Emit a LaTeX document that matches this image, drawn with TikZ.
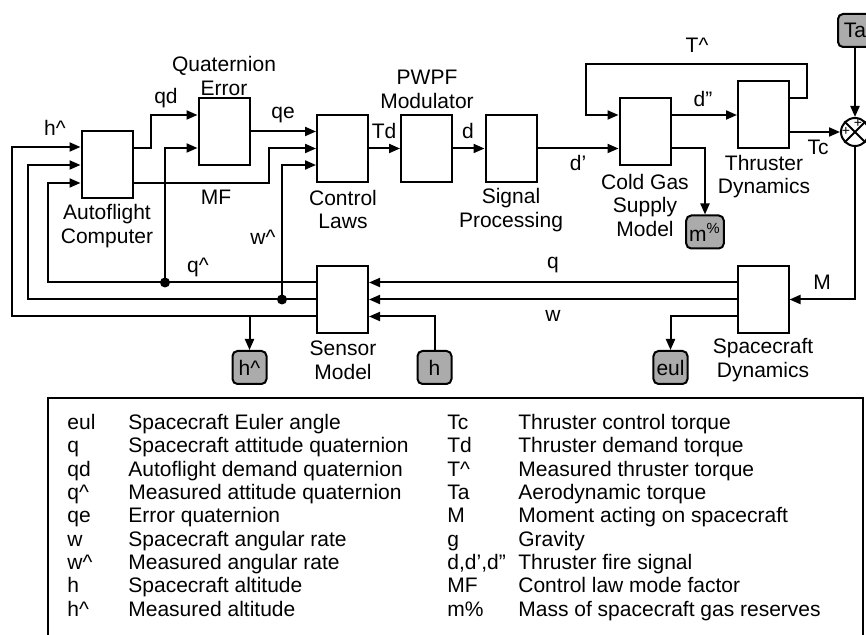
\documentclass[tikz,border=0pt]{standalone}
\usepackage{fontspec}
\setmainfont{Liberation Sans}
\usepackage{tikz}
\usetikzlibrary{arrows.meta,positioning,calc}
\newcommand\lblfont{\fontsize{10.5}{11.75}\selectfont}
\tikzset{
  blk/.style={draw,line width=1pt,minimum width=25.5pt,minimum height=33.5pt,inner sep=0pt},
  io/.style={draw,line width=1pt,fill=black!33,rounded corners=2.5pt,minimum width=17pt,minimum height=16.5pt,inner sep=1.5pt},
  sumn/.style={draw,circle,line width=1pt,minimum size=14pt,inner sep=0pt},
  lbl/.style={align=center,inner sep=0pt},
  leg/.style={anchor=base west,inner sep=0pt},
  arr/.style={-{Triangle[length=5.5pt,width=4.5pt]},line width=1pt},
  jdot/.style={circle,fill,inner sep=0pt,minimum size=5pt},
}
\begin{document}
\begin{tikzpicture}[x=0.5pt,y=-0.5pt,every node/.style={font=\lblfont}]
\useasboundingbox (0,0) rectangle (866,635);
% blocks
\node[blk] (afc)  at (107,165) {};
\node[blk] (qerr) at (224,131.5) {};
\node[blk] (claw) at (342.5,148.5) {};
\node[blk] (pwpf) at (426.5,148.5) {};
\node[blk] (sigp) at (511,148.5) {};
\node[blk] (cgas) at (645,131.5) {};
\node[blk] (thr)  at (763.5,115) {};
\node[blk] (sens) at (342.5,299.5) {};
\node[blk] (scd)  at (763,299.5) {};
\node[sumn] (sum) at (855,132) {};
\draw[line width=1pt] (sum.north west) -- (sum.south east) (sum.north east) -- (sum.south west);
\node[inner sep=0pt,font=\fontsize{7}{7}\selectfont] (plA) at ([xshift=-4.5pt,yshift=0.5pt]sum.center) {+};
\node[inner sep=0pt,font=\fontsize{7}{7}\selectfont] (plB) at ([xshift=1.5pt,yshift=4.5pt]sum.center) {+};
% in/out ports
\node[io] (ta)   at (855,30.5) {Ta};
\node[io] (mpc)  at (705,232) {m\textsuperscript{\%}};
\node[io] (hhat) at (249.5,367.5) {h\textasciicircum};
\node[io] (hin)  at (434.5,367.5) {h};
\node[io] (eul)  at (670.5,367.5) {eul};
% block titles
\node[lbl] (tqerr) at (224,76) {Quaternion\\Error};
\node[lbl] (tafc)  at (107,226) {Autoflight\\Computer};
\node[lbl] (tclaw) at (343,209.5) {Control\\Laws};
\node[lbl] (tpwpf) at (427,89.5) {PWPF\\Modulator};
\node[lbl] (tsigp) at (511,210) {Signal\\Processing};
\node[lbl] (tcgas) at (645,205) {Cold Gas\\Supply\\Model};
\node[lbl] (tthr)  at (764,176.5) {Thruster\\Dynamics};
\node[lbl] (tsens) at (343,360.5) {Sensor\\Model};
\node[lbl] (tscd)  at (763,360) {Spacecraft\\Dynamics};
% signal names
\node[lbl] (nhh) at (55,128) {h\textasciicircum};
\node[lbl] (nqd) at (166,98) {qd};
\node[lbl] (nqe) at (283,115) {qe};
\node[lbl] (nmf) at (216,197) {MF};
\node[lbl] (nwh) at (263,237) {w\textasciicircum};
\node[lbl] (nqh) at (198,267) {q\textasciicircum};
\node[lbl] (ntd) at (384,131) {Td};
\node[lbl] (nd)  at (468,131) {d};
\node[lbl] (ndp) at (578,163) {d'};
\node[lbl] (nth) at (697,45) {T\textasciicircum};
\node[lbl] (ndd) at (703,99) {d''};
\node[lbl] (ntc) at (818,147) {Tc};
\node[lbl] (nm)  at (822,282) {M};
\node[lbl] (nq)  at (553,265) {q};
\node[lbl] (nw)  at (553,316) {w};
% forward path
\coordinate (qdo) at ([yshift=8.5pt]afc.east);
\coordinate (mfo) at ([yshift=-9pt]afc.east);
\draw[arr] (qdo) -- ++(17,0) |- ([yshift=8.25pt]qerr.west);
\draw[arr] (mfo) -- ++(135,0) |- (claw.west);
\draw[arr] (qerr.east) -- (qerr.east -| claw.west);
\draw[arr] (claw.east) -- (pwpf.west);
\draw[arr] (pwpf.east) -- (sigp.west);
\draw[arr] (sigp.east) -- (sigp.east -| cgas.west);
\coordinate (dpp) at ([yshift=8.25pt]cgas.east);
\draw[arr] (dpp) -- (thr.west);
\coordinate (mpo) at ([yshift=-8.5pt]cgas.east);
\draw[arr] (mpo) -| (mpc.north);
% measured thrust back to gas model
\coordinate (tho) at ([yshift=8.5pt]thr.east);
\coordinate (thi) at ([yshift=8.25pt]cgas.west);
\draw[arr] (tho) -- ++(17,0) -- ++(0,-34) -| ([xshift=-16.5pt]thi) -- (thi);
\coordinate (tco) at ([yshift=-8.5pt]thr.east);
\draw[arr] (tco) -- (sum.west);
\draw[arr] (ta.south) -- (sum.north);
\draw[arr] (sum.south) |- (scd.east);
% dynamics to sensors
\draw[arr] ([yshift=8.5pt]scd.west) -- ([yshift=8.5pt]sens.east);
\draw[arr] (scd.west) -- (sens.east);
\draw[arr] ([yshift=-8.5pt]scd.west) -| (eul.north);
\draw[arr] (hin.north) |- ([yshift=-8.5pt]sens.east);
% sensor feedback
\coordinate (qho) at ([yshift=8.5pt]sens.west);
\coordinate (hho) at ([yshift=-8.5pt]sens.west);
\coordinate (jq) at ($(qho)+(-151,0)$);
\coordinate (jw) at ([xshift=-17pt]sens.west);
\draw[arr] (qho) -- ++(-268,0) |- ([yshift=-9pt]afc.west);
\draw[arr] (jq) |- ([yshift=-8.25pt]qerr.west);
\draw[arr] (sens.west) -- ++(-288,0) |- (afc.west);
\draw[arr] (jw) |- ([yshift=-8.25pt]claw.west);
\draw[arr] (hho) -- ++(-304,0) |- ([yshift=9pt]afc.west);
\draw[arr] (hho -| hhat.north) -- (hhat.north);
\node[jdot] (dq) at (jq) {};
\node[jdot] (dw) at (jw) {};
% legend
\draw[line width=1.2pt] (48,398) rectangle (863,660);
\foreach \s/\t [count=\i from 0] in {eul/Spacecraft Euler angle, q/Spacecraft attitude quaternion,
  qd/Autoflight demand quaternion, q\textasciicircum/Measured attitude quaternion, qe/Error quaternion,
  w/Spacecraft angular rate, w\textasciicircum/Measured angular rate, h/Spacecraft altitude,
  h\textasciicircum/Measured altitude}
  {\node[leg] (ls\i) at (67,{429.5+23.35*\i}) {\s}; \node[leg] (lt\i) at (128,{429.5+23.35*\i}) {\t};}
\foreach \s/\t [count=\i from 0] in {Tc/Thruster control torque, Td/Thruster demand torque,
  T\textasciicircum/Measured thruster torque, Ta/Aerodynamic torque, M/Moment acting on spacecraft,
  g/Gravity, {d,d',d''}/Thruster fire signal, MF/Control law mode factor, m\%/Mass of spacecraft gas reserves}
  {\node[leg] (rs\i) at (447,{429.5+23.35*\i}) {\s}; \node[leg] (rt\i) at (518,{429.5+23.35*\i}) {\t};}
\end{tikzpicture}
\end{document}
